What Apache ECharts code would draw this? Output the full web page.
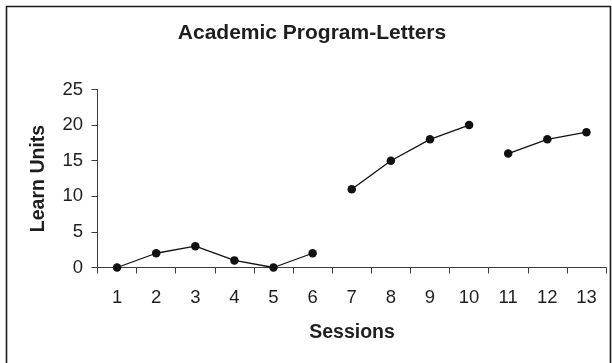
<!DOCTYPE html>
<html>
<head>
<meta charset="utf-8">
<style>
  html, body { margin: 0; padding: 0; background: #fff; }
  #chart { width: 612px; height: 363px; }
</style>
<script src="https://cdn.jsdelivr.net/npm/echarts@6/dist/echarts.min.js"></script>
</head>
<body>
<div id="chart"></div>
<script>
// Sessions along the x axis
const sessions = ['1', '2', '3', '4', '5', '6', '7', '8', '9', '10', '11', '12', '13'];
// Learn units per session, one array per phase (each line segment)
const phaseA = [0, 2, 3, 1, 0, 2];      // sessions 1-6
const phaseB = [11, 15, 18, 20];        // sessions 7-10
const phaseC = [16, 18, 19];            // sessions 11-13
const yTicks = [0, 5, 10, 15, 20, 25];

// Pad each phase to the full session range so the segments stay separate
function padPhase(values, startIndex) {
  const out = sessions.map(() => '-');
  values.forEach((v, i) => { out[startIndex + i] = v; });
  return out;
}
const phases = [
  padPhase(phaseA, 0),
  padPhase(phaseB, phaseA.length),
  padPhase(phaseC, phaseA.length + phaseB.length)
];

const FONT = 'Liberation Sans, Arial, Helvetica, sans-serif';
const INK = '#1e1e1e';
const AXIS = '#3c3c3c';

const chart = echarts.init(document.getElementById('chart'), null, { renderer: 'canvas' });

const grid = { left: 97.5, right: 6, top: 89.5, bottom: 95.5 };

chart.setOption({
  animation: false,
  backgroundColor: '#ffffff',
  grid: grid,
  xAxis: {
    type: 'category',
    data: sessions,
    boundaryGap: true,
    axisLine: { lineStyle: { color: AXIS, width: 1 } },
    axisTick: { show: true, length: 6, inside: false, alignWithLabel: false, lineStyle: { color: AXIS } },
    axisLabel: { color: INK, fontFamily: FONT, fontSize: 18.5, margin: 21 },
    splitLine: { show: false }
  },
  yAxis: {
    type: 'value',
    min: yTicks[0],
    max: yTicks[yTicks.length - 1],
    interval: yTicks[1] - yTicks[0],
    axisLine: { show: true, lineStyle: { color: AXIS, width: 1 } },
    axisTick: { show: true, length: 6, inside: false, lineStyle: { color: AXIS } },
    axisLabel: { color: INK, fontFamily: FONT, fontSize: 18.5, margin: 14.5 },
    splitLine: { show: false }
  },
  series: phases.map(data => ({
    type: 'line',
    data: data,
    connectNulls: false,
    symbol: 'circle',
    symbolSize: 8.5,
    itemStyle: { color: '#111111' },
    lineStyle: { color: '#111111', width: 1.3 }
  })),
  graphic: [
    {
      type: 'rect',
      shape: { x: 6.5, y: 6.5, width: 604, height: 380 },
      style: { fill: null, stroke: '#1a1a1a', lineWidth: 1.6 },
      silent: true
    },
    {
      type: 'text',
      x: 312, y: 33.5,
      style: {
        text: 'Academic Program-Letters',
        fill: INK, font: 'bold 21px ' + FONT,
        textAlign: 'center', textVerticalAlign: 'middle'
      }
    },
    {
      type: 'text',
      x: 352, y: 333,
      style: {
        text: 'Sessions',
        fill: INK, font: 'bold 19.5px ' + FONT,
        textAlign: 'center', textVerticalAlign: 'middle'
      }
    },
    {
      type: 'text',
      x: 38.5, y: 178.5,
      rotation: Math.PI / 2,
      style: {
        text: 'Learn Units',
        fill: INK, font: 'bold 19.5px ' + FONT,
        textAlign: 'center', textVerticalAlign: 'middle'
      }
    }
  ]
});
</script>
</body>
</html>
